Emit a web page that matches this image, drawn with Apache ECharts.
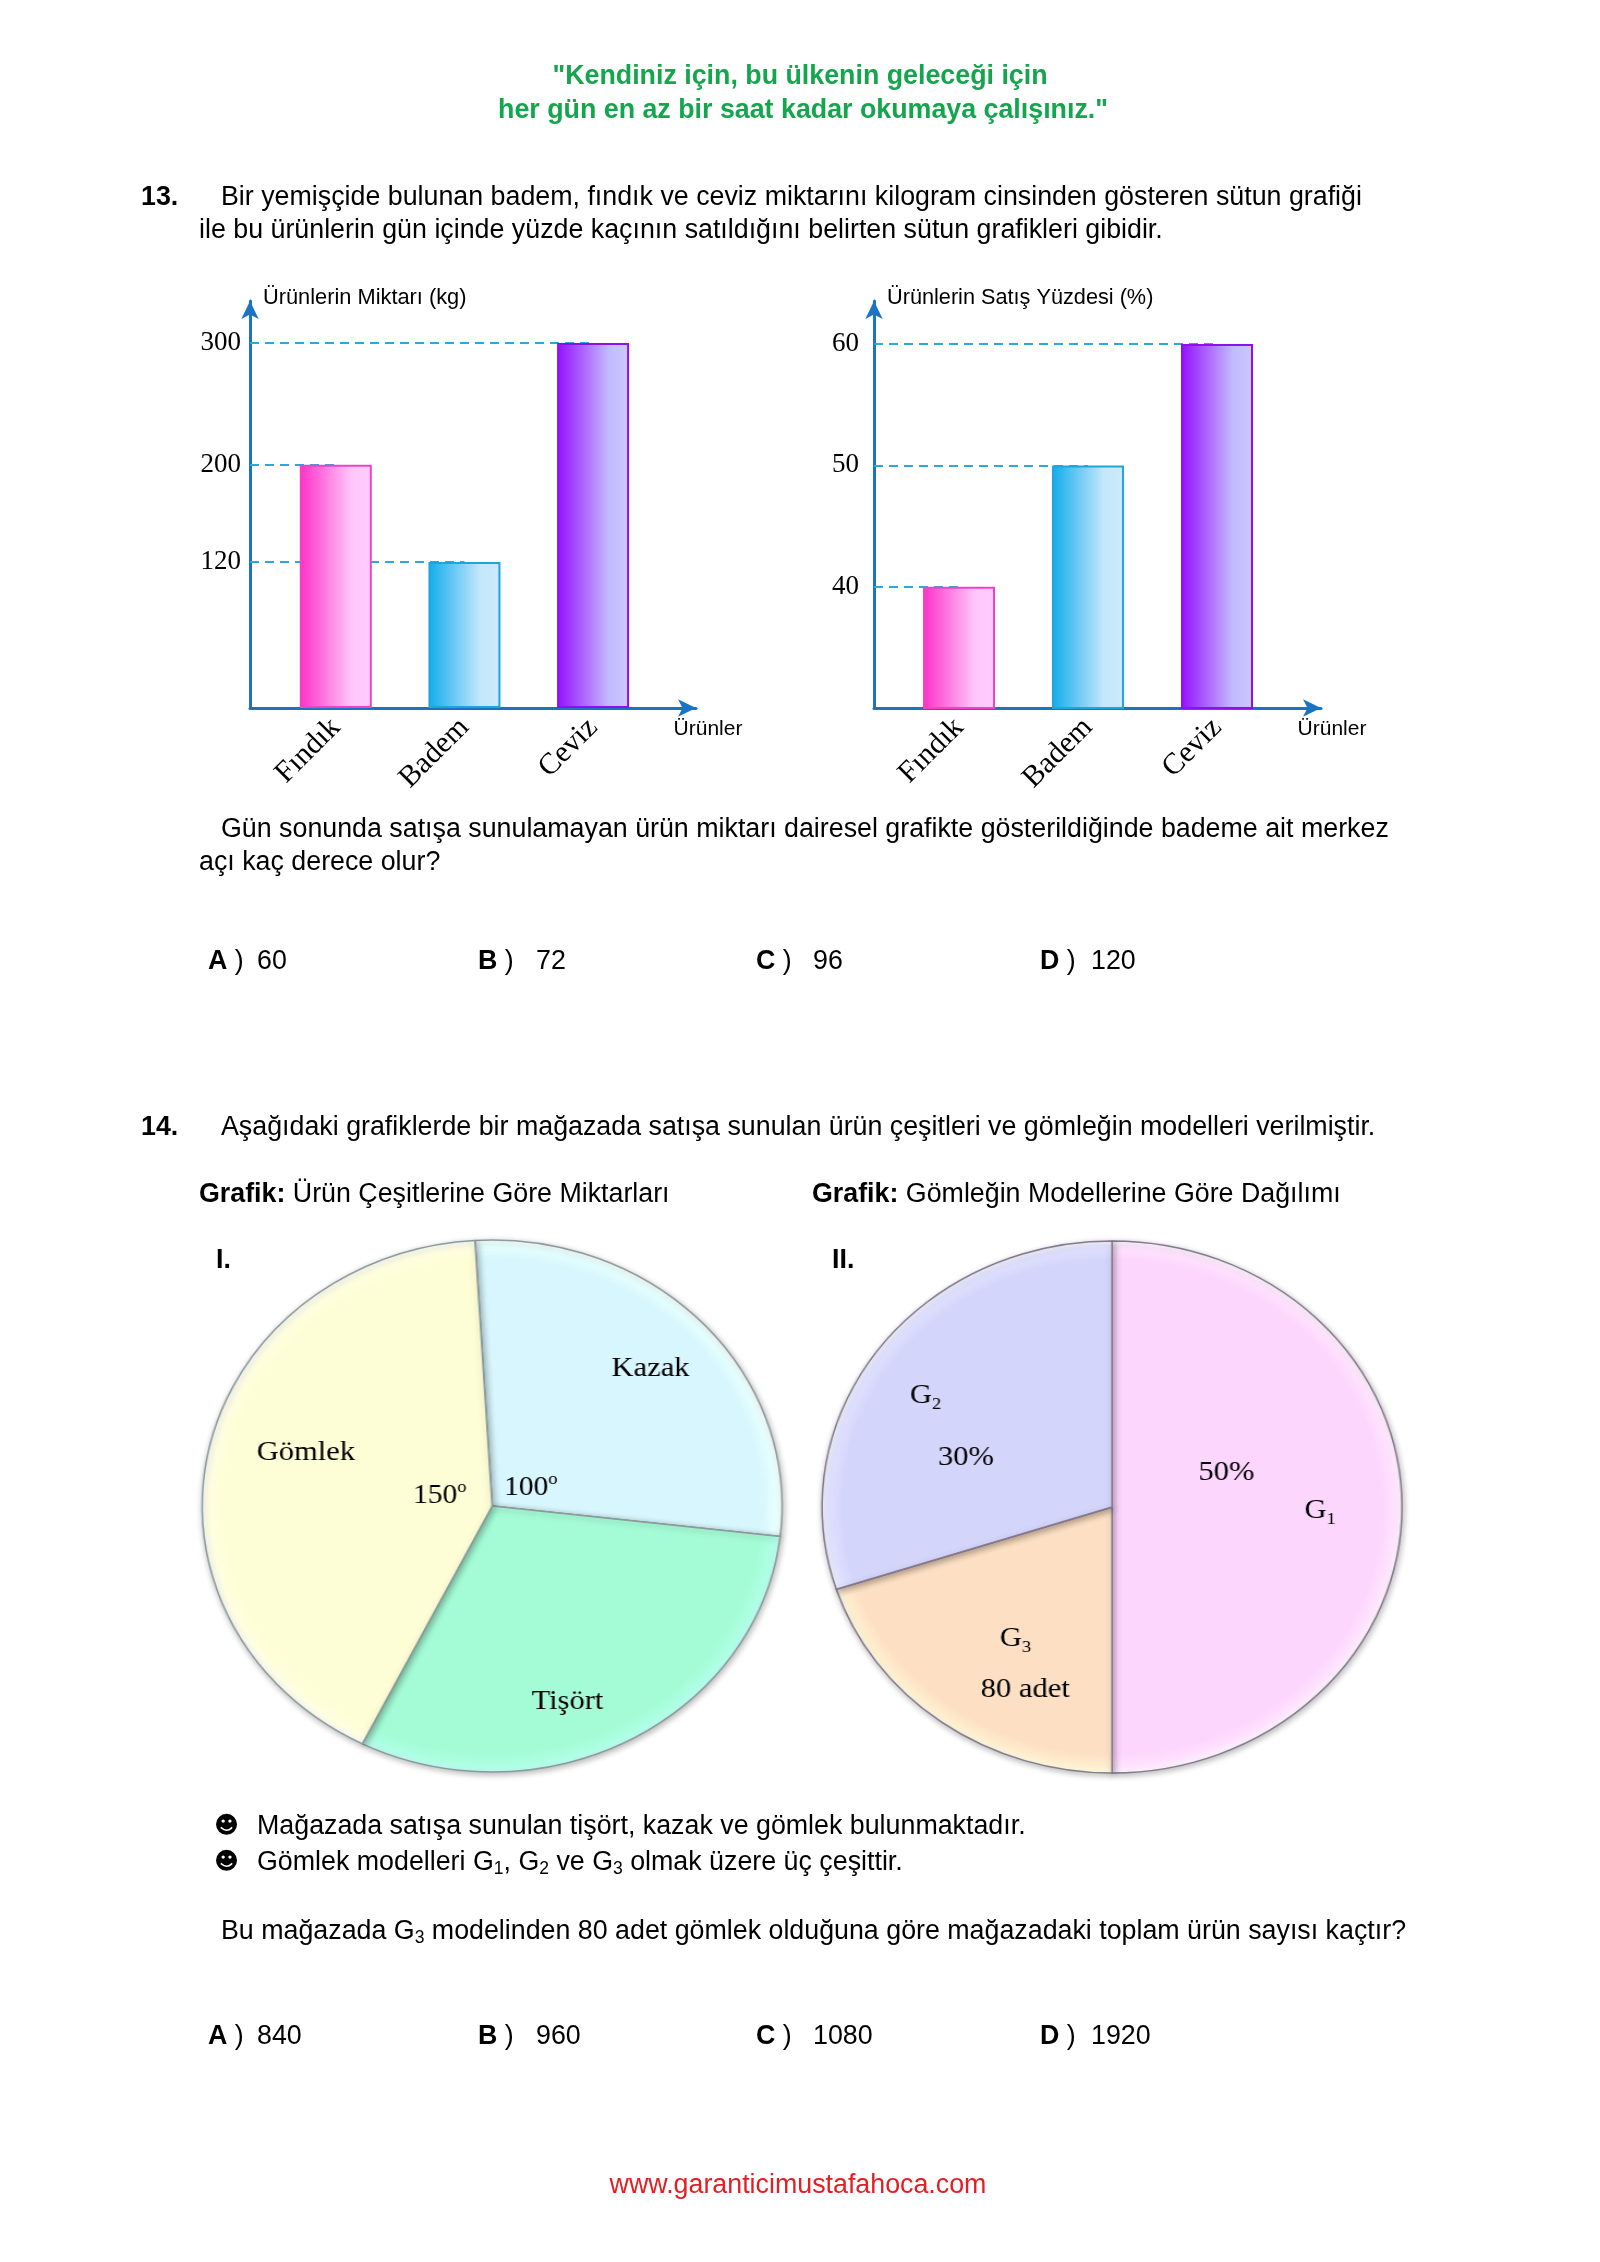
<!DOCTYPE html>
<html><head><meta charset="utf-8">
<script src="https://cdn.jsdelivr.net/npm/echarts@6/dist/echarts.min.js"></script>
<style>
html,body{margin:0;padding:0;background:#fff;}
#page{position:absolute;left:0;top:0;width:1600px;height:2262px;}
#pies{position:absolute;left:0;top:1200px;width:1468px;height:620px;transform:scaleX(1.09);transform-origin:0 0;}
</style></head><body>
<div id="page"></div><div id="pies"></div>
<script>
// ---------------- data ----------------
const products = ['Fındık', 'Badem', 'Ceviz'];
const amountKg = [200, 120, 300];
const amountTicks = [120, 200, 300];
const salePct = [40, 50, 60];
const pctTicks = [40, 50, 60];

const shopCats = ['Kazak', 'Tişört', 'Gömlek'];
const shopAngles = [100, 110, 150];          // central angles (degrees)
const shopAngleShown = [true, false, true];  // angle written on the chart

const shirtIdx = ['1', '3', '2'];            // G1, G3, G2
const shirtShares = [50, 20, 30];            // percent
const shirtValueText = ['50%', '80 adet', '30%'];

// ---------------- styles ----------------
const AX = '#1b74c0';
const SERIF = '"Liberation Serif", "Times New Roman", serif';
const SANS = '"Liberation Sans", Arial, sans-serif';
const barFill = [
  ['#ff30c8', '#ffc6fb', '#ffcdff'],
  ['#12acec', '#c4e7fb', '#cdeafc'],
  ['#9410ff', '#c2baff', '#cbc8ff']
];
const barBorder = ['#ee44c4', '#1ea6dc', '#8e10f0'];

function grad(k) {
  return new echarts.graphic.LinearGradient(0, 0, 1, 0, [
    {offset: 0, color: barFill[k][0]}, {offset: 0.72, color: barFill[k][1]}, {offset: 1, color: barFill[k][2]}]);
}

function makeBarParts(i, vals, ticks, xr, yr, lblMargin, yName, yNameSize, xNameGap) {
  const xAxis = {
    gridIndex: i, type: 'value', min: xr[0], max: xr[1],
    axisLine: {show: true, onZero: false, lineStyle: {color: AX, width: 3}, symbol: ['none', 'arrow'], symbolSize: [13, 18]},
    axisTick: {show: false}, splitLine: {show: false},
    axisLabel: {customValues: [1, 2, 3], formatter: v => products[Math.round(v) - 1], rotate: 45, margin: 15,
      fontFamily: SERIF, fontSize: 30, color: '#000'},
    name: 'Ürünler', nameLocation: 'end', nameGap: xNameGap,
    nameTextStyle: {fontFamily: SANS, fontSize: 21, color: '#000', align: 'center', verticalAlign: 'top', padding: [11, 0, 0, 0]}
  };
  const yAxis = {
    gridIndex: i, type: 'value', min: yr[0], max: yr[1],
    axisLine: {show: true, onZero: false, lineStyle: {color: AX, width: 3}, symbol: ['none', 'arrow'], symbolSize: [13, 18]},
    axisTick: {show: false}, splitLine: {show: false},
    axisLabel: {customValues: ticks, margin: lblMargin, fontFamily: SERIF, fontSize: 27, color: '#000'},
    name: yName, nameLocation: 'end', nameGap: 3,
    nameTextStyle: {fontFamily: SANS, fontSize: yNameSize, color: '#000', align: 'left', verticalAlign: 'middle', padding: [0, 0, 0, 13]}
  };
  const series = {
    type: 'bar', xAxisIndex: i, yAxisIndex: i, barWidth: 72, z: 3, silent: true,
    data: vals.map((v, k) => ({value: [k + 1, v], itemStyle: {color: grad(k), borderColor: barBorder[k], borderWidth: 2}})),
    markLine: {
      silent: true, z: 1, symbol: ['none', 'none'], label: {show: false},
      lineStyle: {color: '#2aa9e0', width: 2, type: [9, 6]},
      data: vals.map((v, k) => [{coord: [xr[0], v]}, {coord: [k + 1, v]}])
    }
  };
  return {xAxis, yAxis, series};
}

const b1 = makeBarParts(0, amountKg, amountTicks, [0.333, 3.80], [0, 334.5], 9, 'Ürünlerin Miktarı (kg)', 21.8, 12);
const b2 = makeBarParts(1, salePct, pctTicks, [0.341, 3.806], [30, 63.55], 15, 'Ürünlerin Satış Yüzdesi (%)', 21.7, 11);

// ---------------- page text ----------------
const FS = 26.8;
const BODY = FS + 'px ' + SANS;
const BOLD = 'bold ' + FS + 'px ' + SANS;
const DY = 3;
function T(x, y, text, extra) {
  return {type: 'text', x: x, y: y + DY, silent: true,
    style: Object.assign({text: text, fill: '#000', font: BODY, align: 'left', verticalAlign: 'middle'}, extra || {})};
}
const subRich = {
  sb: {fontFamily: SANS, fontSize: 17.5, padding: [13, 0, 0, 0]},
  b: {fontFamily: SANS, fontSize: FS, fontWeight: 'bold'},
  r: {fontFamily: SANS, fontSize: FS}
};
function answers(y, vals) {
  const xs = [[208, 257], [478, 536], [756, 813], [1040, 1091]];
  const L = ['A', 'B', 'C', 'D'];
  const out = [];
  vals.forEach((v, k) => {
    out.push(T(xs[k][0], y, '{b|' + L[k] + '}{r| )}', {rich: subRich}));
    out.push(T(xs[k][1], y, v));
  });
  return out;
}
const green = '#14a64c';
const BUL = '24px "DejaVu Sans"';
const texts = [
  T(800, 74, '"Kendiniz için, bu ülkenin geleceği için', {align: 'center', font: BOLD, fill: green}),
  T(803, 108, 'her gün en az bir saat kadar okumaya çalışınız."', {align: 'center', font: BOLD, fill: green}),
  T(141, 195, '13.', {font: BOLD}),
  T(221, 195, 'Bir yemişçide bulunan badem, fındık ve ceviz miktarını kilogram cinsinden gösteren sütun grafiği'),
  T(199, 228, 'ile bu ürünlerin gün içinde yüzde kaçının satıldığını belirten sütun grafikleri gibidir.'),
  T(221, 827, 'Gün sonunda satışa sunulamayan ürün miktarı dairesel grafikte gösterildiğinde bademe ait merkez'),
  T(199, 860, 'açı kaç derece olur?'),
  ...answers(959, ['60', '72', '96', '120']),
  T(141, 1125, '14.', {font: BOLD}),
  T(221, 1125, 'Aşağıdaki grafiklerde bir mağazada satışa sunulan ürün çeşitleri ve gömleğin modelleri verilmiştir.'),
  T(199, 1192, '{b|Grafik:}{r| Ürün Çeşitlerine Göre Miktarları}', {rich: subRich}),
  T(812, 1192, '{b|Grafik:}{r| Gömleğin Modellerine Göre Dağılımı}', {rich: subRich}),
  T(216, 1258, 'I.', {font: BOLD}),
  T(832, 1258, 'II.', {font: BOLD}),
  T(214, 1824, '☻', {font: BUL}),
  T(214, 1860, '☻', {font: BUL}),
  T(257, 1824, 'Mağazada satışa sunulan tişört, kazak ve gömlek bulunmaktadır.'),
  T(257, 1860, '{r|Gömlek modelleri G}{sb|1}{r|, G}{sb|2}{r| ve G}{sb|3}{r| olmak üzere üç çeşittir.}', {rich: subRich}),
  T(221, 1929, '{r|Bu mağazada G}{sb|3}{r| modelinden 80 adet gömlek olduğuna göre mağazadaki toplam ürün sayısı kaçtır?}', {rich: subRich}),
  ...answers(2034, ['840', '960', '1080', '1920']),
  T(798, 2183, 'www.garanticimustafahoca.com', {align: 'center', fill: '#e31e24'})
];

const page = echarts.init(document.getElementById('page'), null, {renderer: 'canvas', width: 1600, height: 2262});
page.setOption({
  animation: false,
  backgroundColor: '#fff',
  grid: [
    {left: 250, top: 301, width: 446, height: 407, containLabel: false},
    {left: 874, top: 301, width: 447, height: 407, containLabel: false}
  ],
  xAxis: [b1.xAxis, b2.xAxis],
  yAxis: [b1.yAxis, b2.yAxis],
  series: [b1.series, b2.series],
  graphic: {elements: texts}
});

// ---------------- pies ----------------
const R = 266;
const C1 = [451.5, 306], C2 = [1020.2, 307];
const pie1Colors = ['#d8f6fd', '#a4fcd6', '#fefed6'];
const pie2Colors = ['#fdd6fe', '#fde0c3', '#d4d5fa'];
const pie1NamePad = [[0, 0, 0, 0], [40, 52, 0, 0], [0, 0, 26, 50]];
const pie1AnglePad = [[32, 0, 0, 0], [0, 0, 0, 0], [0, 0, 0, 0]];

function shade(c, center) {
  return new echarts.graphic.RadialGradient(center[0], center[1], R, [
    {offset: 0, color: c}, {offset: 0.93, color: c},
    {offset: 0.975, color: echarts.color.lift(c, -0.06)}, {offset: 1, color: echarts.color.lift(c, -0.16)}], true);
}
const clear = {color: 'rgba(0,0,0,0)', borderWidth: 0};
const shirtLayout = [
  {valueFirst: true, gap: 86, lh: 38, pad: [0, 48, 30, 0]},
  {valueFirst: false, gap: 9, lh: 51, pad: [36, 0, 0, 34]},
  {valueFirst: false, gap: 37, lh: 62, pad: [42, 27, 0, 0]}
];
function shirtLabel(k) {
  const L = shirtLayout[k];
  const nm = '{n|G}{s|' + shirtIdx[k] + '}';
  const vl = '{v|' + shirtValueText[k] + '}';
  const txt = L.valueFirst ? vl + '{g|}\n{g|}' + nm : nm + '{g|}\n{g|}' + vl;
  return {
    show: true, position: 'inside', formatter: txt, padding: L.pad, color: '#000',
    rich: {
      n: {fontFamily: SERIF, fontSize: 28, lineHeight: L.lh, color: '#000'},
      v: {fontFamily: SERIF, fontSize: 28, lineHeight: L.lh, color: '#000'},
      s: {fontFamily: SERIF, fontSize: 17, padding: [18, 0, 0, 0], color: '#000'},
      g: {width: L.gap}
    }
  };
}

const pies = echarts.init(document.getElementById('pies'), null, {renderer: 'canvas', width: 1468, height: 620});
pies.setOption({
  animation: false,
  backgroundColor: 'transparent',
  series: [
    {
      type: 'pie', center: C1, radius: R, startAngle: 93.4, clockwise: true, silent: true,
      label: {show: false}, labelLine: {show: false},
      itemStyle: {borderColor: '#8c9b9b', borderWidth: 1.5, shadowBlur: 6, shadowColor: 'rgba(0,0,0,0.28)', shadowOffsetX: 1, shadowOffsetY: 2},
      data: shopCats.map((n, i) => ({name: n, value: shopAngles[i], itemStyle: {color: shade(pie1Colors[i], C1)}}))
    },
    {
      type: 'pie', center: C1, radius: [128, R], startAngle: 93.4, clockwise: true, silent: true,
      itemStyle: clear, labelLine: {show: false},
      label: {show: true, position: 'inside', color: '#000', formatter: p => '{t|' + p.name + '}',
        rich: {t: {fontFamily: SERIF, fontSize: 28, color: '#000'}}},
      data: shopCats.map((n, i) => ({name: n, value: shopAngles[i], label: {padding: pie1NamePad[i]}}))
    },
    {
      type: 'pie', center: C1, radius: [0, 92], startAngle: 93.4, clockwise: true, silent: true,
      itemStyle: clear, labelLine: {show: false},
      label: {show: true, position: 'inside', color: '#000',
        formatter: p => shopAngleShown[p.dataIndex] ? '{d|' + p.value + '}{o|o}' : '',
        rich: {d: {fontFamily: SERIF, fontSize: 27, color: '#000'}, o: {fontFamily: SERIF, fontSize: 17, padding: [0, 0, 17, 0], color: '#000'}}},
      data: shopCats.map((n, i) => ({name: n, value: shopAngles[i], label: {padding: pie1AnglePad[i]}}))
    },
    {
      type: 'pie', center: C2, radius: R, startAngle: 90, clockwise: true, silent: true,
      label: {show: false}, labelLine: {show: false},
      itemStyle: {borderColor: '#85788f', borderWidth: 1.5, shadowBlur: 6, shadowColor: 'rgba(0,0,0,0.28)', shadowOffsetX: 1, shadowOffsetY: 2},
      data: shirtShares.map((v, i) => ({name: 'G' + shirtIdx[i], value: v, itemStyle: {color: shade(pie2Colors[i], C2)}}))
    },
    {
      type: 'pie', center: C2, radius: [72, R], startAngle: 90, clockwise: true, silent: true,
      itemStyle: clear, labelLine: {show: false},
      data: shirtShares.map((v, i) => ({name: 'G' + shirtIdx[i], value: v, label: shirtLabel(i)}))
    }
  ]
});
</script>
</body></html>
